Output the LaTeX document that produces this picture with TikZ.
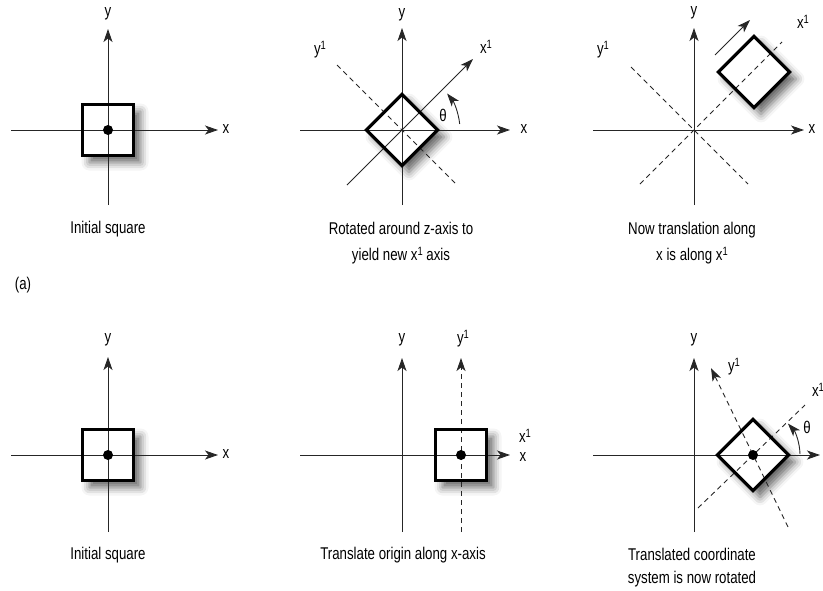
\documentclass[tikz,border=0pt]{standalone}
\usepackage{fontspec}
\setmainfont{Liberation Sans}[FakeStretch=0.78]
\usetikzlibrary{arrows.meta,shadows.blur,calc}
\newcommand{\supone}{\raisebox{0.55ex}{\fontsize{12}{12}\selectfont 1}}
\begin{document}
\begin{tikzpicture}[x=1pt,y=-1pt,
  axis/.style={line width=0.9pt, draw=black!85},
  arr/.style={-{Stealth[length=13pt,width=9pt,inset=3.5pt]}},
  dashaxis/.style={line width=0.9pt, draw=black!85, dash pattern=on 5pt off 4pt},
  sqbg/.style={draw=none, fill=white, minimum size=#1, inner sep=0pt,
    blur shadow={shadow xshift=7pt, shadow yshift=-7pt, shadow blur radius=8pt, shadow opacity=60}},
  sqbg/.default=51pt,
  sqline/.style={line width=3.2pt, draw=black, line join=miter},
  lbl/.style={font=\fontsize{17}{19}\selectfont, inner sep=0pt},
  captxt/.style={font=\fontsize{17}{26}\selectfont, align=center, inner sep=0pt},
  captxtb/.style={font=\fontsize{17}{23}\selectfont, align=center, inner sep=0pt},
  dotn/.style={fill=black, circle, minimum size=10pt, inner sep=0pt}
]
\useasboundingbox (0,0) rectangle (823,590);
\clip (0,0) rectangle (823,590);

% ---------------- Panel 1 ----------------
\coordinate (o1) at (108,130);
\node[sqbg] (s1) at (o1) {};
\coordinate (x1a) at (11,130); \coordinate (x1b) at (218,130);
\coordinate (y1a) at (108,205); \coordinate (y1b) at (108,29);
\draw[axis,arr] (x1a) -- (x1b);
\draw[axis,arr] (y1a) -- (y1b);
\draw[sqline] (s1.north west) rectangle (s1.south east);
\node[dotn] (d1) at (o1) {};
\node[lbl] (lx1) at (226,129) {x};
\node[lbl] (ly1) at (108,14) {y};
\node[captxt] (c1) at (108,229) {Initial square};

\node[lbl] (lab) at (23,285) {(a)};

% ---------------- Panel 2 ----------------
\coordinate (o2) at (402,130);
\node[sqbg=50pt, rotate=45] (s2) at (o2) {};
\coordinate (x2a) at (300,130); \coordinate (x2b) at (510,130);
\coordinate (y2a) at (402,205); \coordinate (y2b) at (402,28);
\coordinate (xp2a) at (347,185); \coordinate (xp2b) at (473,59);
\coordinate (yp2a) at (337,65); \coordinate (yp2b) at (457,185);
\draw[axis,arr] (x2a) -- (x2b);
\draw[axis,arr] (y2a) -- (y2b);
\draw[axis,arr] (xp2a) -- (xp2b);
\draw[dashaxis] (yp2a) -- (yp2b);
\draw[sqline] (s2.north west) -- (s2.north east) -- (s2.south east) -- (s2.south west) -- cycle;
\draw[axis,arr] (o2) ++(-6:58) arc[start angle=-6, end angle=-39, radius=58];
\node[lbl] (lx2) at (524,129) {x};
\node[lbl] (ly2) at (402,15) {y};
\node[lbl] (lxp2) at (486,47) {x\supone};
\node[lbl] (lyp2) at (320,50) {y\supone};
\node[lbl] (th2) at (443,115) {θ};
\node[captxt] (c2) at (401,243) {Rotated around z-axis to\\yield new x\supone\ axis};

% ---------------- Panel 3 ----------------
\coordinate (o3) at (694,130);
\node[sqbg=50pt, rotate=45] (s3) at (754,72) {};
\coordinate (x3a) at (593,130); \coordinate (x3b) at (804,130);
\coordinate (y3a) at (694,205); \coordinate (y3b) at (694,28);
\coordinate (yp3a) at (631,67); \coordinate (yp3b) at (748,184);
\coordinate (xp3a) at (640,184); \coordinate (xp3b) at (782,42);
\coordinate (tr3a) at (715,55); \coordinate (tr3b) at (750,20);
\draw[axis,arr] (x3a) -- (x3b);
\draw[axis,arr] (y3a) -- (y3b);
\draw[dashaxis] (yp3a) -- (yp3b);
\draw[dashaxis] (xp3a) -- (xp3b);
\draw[sqline] (s3.north west) -- (s3.north east) -- (s3.south east) -- (s3.south west) -- cycle;
\draw[axis,arr] (tr3a) -- (tr3b);
\node[lbl] (lx3) at (812,129) {x};
\node[lbl] (ly3) at (694,13) {y};
\node[lbl] (lxp3) at (803,22) {x\supone};
\node[lbl] (lyp3) at (603,50) {y\supone};
\node[captxt] (c3) at (692,243) {Now translation along\\x is along x\supone};

% ---------------- Panel 4 ----------------
\coordinate (o4) at (108,455);
\node[sqbg] (s4) at (o4) {};
\coordinate (x4a) at (11,455); \coordinate (x4b) at (218,455);
\coordinate (y4a) at (108,532); \coordinate (y4b) at (108,357);
\draw[axis,arr] (x4a) -- (x4b);
\draw[axis,arr] (y4a) -- (y4b);
\draw[sqline] (s4.north west) rectangle (s4.south east);
\node[dotn] (d4) at (o4) {};
\node[lbl] (lx4) at (226,454) {x};
\node[lbl] (ly4) at (108,340) {y};
\node[captxt] (c4) at (108,555) {Initial square};

% ---------------- Panel 5 ----------------
\coordinate (o5) at (402,455);
\coordinate (c5) at (461,455);
\node[sqbg] (s5) at (c5) {};
\coordinate (x5a) at (300,455); \coordinate (x5b) at (510,455);
\coordinate (y5a) at (402,532); \coordinate (y5b) at (402,358);
\coordinate (yp5a) at (461,532); \coordinate (yp5b) at (461,358);
\draw[axis,arr] (x5a) -- (x5b);
\draw[axis,arr] (y5a) -- (y5b);
\draw[dashaxis,arr] (yp5a) -- (yp5b);
\draw[sqline] (s5.north west) rectangle (s5.south east);
\node[dotn] (d5) at (c5) {};
\node[lbl] (lx5) at (523,457) {x};
\node[lbl] (lxp5) at (525,436) {x\supone};
\node[lbl] (ly5) at (402,340) {y};
\node[lbl] (lyp5) at (463,339) {y\supone};
\node[captxt] (c5t) at (403,555) {Translate origin along x-axis};

% ---------------- Panel 6 ----------------
\coordinate (o6) at (694,455);
\coordinate (c6) at (753,455);
\node[sqbg=50pt, rotate=45] (s6) at (c6) {};
\coordinate (x6a) at (593,455); \coordinate (x6b) at (820,455);
\coordinate (y6a) at (694,532); \coordinate (y6b) at (694,358);
\coordinate (yp6a) at (788,527); \coordinate (yp6b) at (711,368);
\coordinate (xp6a) at (698,508); \coordinate (xp6b) at (805,405);
\draw[axis,arr] (x6a) -- (x6b);
\draw[axis,arr] (y6a) -- (y6b);
\draw[dashaxis,arr] (yp6a) -- (yp6b);
\draw[dashaxis] (xp6a) -- (xp6b);
\draw[sqline] (s6.north west) -- (s6.north east) -- (s6.south east) -- (s6.south west) -- cycle;
\node[dotn] (d6) at (c6) {};
\draw[axis,arr] (c6) ++(-1:47) arc[start angle=-1, end angle=-42, radius=47];
\node[lbl] (ly6) at (694,340) {y};
\node[lbl] (lyp6) at (734,367) {y\supone};
\node[lbl] (lxp6) at (818,390) {x\supone};
\node[lbl] (th6) at (807,427) {θ};
\node[captxtb] (c6t) at (692,568) {Translated coordinate\\system is now rotated};
\end{tikzpicture}
\end{document}
